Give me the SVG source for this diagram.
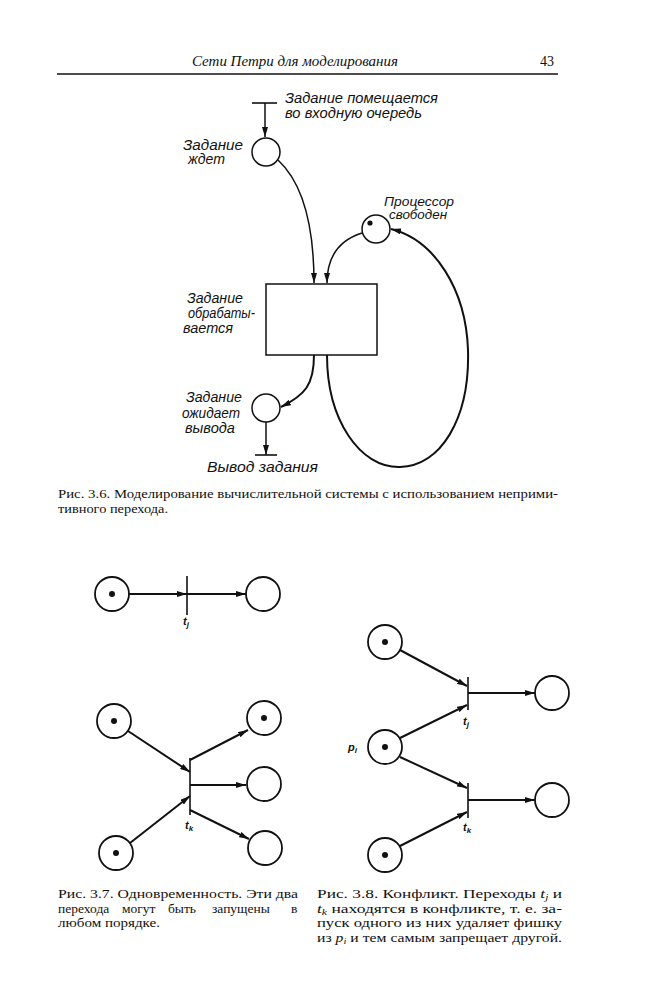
<svg xmlns="http://www.w3.org/2000/svg" width="653" height="1000" viewBox="0 0 653 1000">
<style>
.bg{fill:#fff}
.pl{fill:#fff;stroke:#111;stroke-width:1.5}
.pl2{fill:#fff;stroke:#111;stroke-width:1.8}
.tok{fill:#111}
.ln{fill:none;stroke:#111;stroke-width:1.5}
.ln2{fill:none;stroke:#111;stroke-width:2}
.bar{stroke:#111;stroke-width:1.6}
.hand{font-family:"Liberation Sans",sans-serif;font-style:italic;font-size:14px;fill:#111}
.small{font-size:12px}
.head{font-family:"Liberation Serif",serif;font-style:italic;font-size:15px;fill:#111}
.cap{font-family:"Liberation Serif",serif;font-size:13.5px;fill:#111}
.lab{font-family:"Liberation Sans",sans-serif;font-style:italic;font-weight:bold;font-size:11px;fill:#111}
.sub{font-size:8px}
</style>
<defs>
<marker id="ah" markerUnits="userSpaceOnUse" markerWidth="10" markerHeight="6" refX="10" refY="3" orient="auto">
<path d="M0,0 L10,3 L0,6 z" fill="#111"/>
</marker>
</defs>
<rect class="bg" width="653" height="1000"/>

<!-- header -->
<g id="header">
<text class="head" x="192" y="66" textLength="206" lengthAdjust="spacingAndGlyphs">Сети Петри для моделирования</text>
<text class="cap" x="540" y="66" style="font-size:14px">43</text>
<line x1="57" y1="74" x2="558" y2="74" stroke="#111" stroke-width="1.6"/>
</g>

<!-- Fig 3.6 -->
<g id="fig36-connectors">
<line class="bar" x1="252" y1="103" x2="277" y2="103"/>
<path class="ln" d="M265,103 L265,137" marker-end="url(#ah)"/>
<path class="ln" d="M278,160 C305,185 314,230 314,283" marker-end="url(#ah)"/>
<path class="ln" d="M362,233 C340,240 327,255 327,283" marker-end="url(#ah)"/>
<path class="ln2" d="M327,355 C327,420 360,468 400,467 C440,466 470,420 468,350 C466,290 435,240 391,229" marker-end="url(#ah)"/>
<path class="ln2" d="M314,355 C314,385 305,395 281,407" marker-end="url(#ah)"/>
<path class="ln" d="M266,422 L266,455" marker-end="url(#ah)"/>
<line class="bar" x1="255" y1="455" x2="277" y2="455"/>
</g>
<g id="t-enter">
<text class="hand" x="285" y="103" textLength="153" lengthAdjust="spacingAndGlyphs">Задание помещается</text>
<text class="hand" x="285" y="118" textLength="137" lengthAdjust="spacingAndGlyphs">во входную очередь</text>
</g>
<g id="p-wait">
<circle class="pl" cx="266" cy="152" r="14"/>
<text class="hand" x="183" y="150" textLength="60" lengthAdjust="spacingAndGlyphs">Задание</text>
<text class="hand" x="188" y="164" textLength="37" lengthAdjust="spacingAndGlyphs">ждет</text>
</g>
<g id="p-cpu">
<circle class="pl" cx="376" cy="229" r="14"/>
<circle class="tok" cx="370" cy="223" r="2.6"/>
<text class="hand small" x="384" y="206" textLength="70" lengthAdjust="spacingAndGlyphs">Процессор</text>
<text class="hand small" x="389" y="219" textLength="58" lengthAdjust="spacingAndGlyphs">свободен</text>
</g>
<g id="t-process">
<rect class="pl" x="266" y="284" width="111" height="71"/>
<text class="hand" x="187" y="303" textLength="56" lengthAdjust="spacingAndGlyphs">Задание</text>
<text class="hand" x="188" y="318" textLength="67" lengthAdjust="spacingAndGlyphs">обрабаты-</text>
<text class="hand" x="183" y="333" textLength="50" lengthAdjust="spacingAndGlyphs">вается</text>
</g>
<g id="p-out">
<circle class="pl" cx="266" cy="408" r="14"/>
<text class="hand" x="186" y="402" textLength="56" lengthAdjust="spacingAndGlyphs">Задание</text>
<text class="hand" x="182" y="418" textLength="58" lengthAdjust="spacingAndGlyphs">ожидает</text>
<text class="hand" x="185" y="433" textLength="50" lengthAdjust="spacingAndGlyphs">вывода</text>
</g>
<g id="t-output">
<text class="hand" x="207" y="472" textLength="111" lengthAdjust="spacingAndGlyphs">Вывод задания</text>
</g>
<g id="cap36">
<text class="cap" x="58" y="498" textLength="500" lengthAdjust="spacingAndGlyphs">Рис. 3.6. Моделирование вычислительной системы с использованием неприми-</text>
<text class="cap" x="58" y="513" textLength="110" lengthAdjust="spacingAndGlyphs">тивного перехода.</text>
</g>

<!-- Fig 3.7 -->
<g id="fig37-connectors">
<path class="ln2" d="M129,594 L187,594" marker-end="url(#ah)"/>
<path class="ln2" d="M187,594 L246,594" marker-end="url(#ah)"/>
<line class="bar" x1="187" y1="576" x2="187" y2="615"/>
<path class="ln2" d="M128,731 L190,772" marker-end="url(#ah)"/>
<path class="ln2" d="M130,843 L190,796" marker-end="url(#ah)"/>
<path class="ln2" d="M190,760 L248,730" marker-end="url(#ah)"/>
<path class="ln2" d="M190,785 L246,785" marker-end="url(#ah)"/>
<path class="ln2" d="M190,810 L249,839" marker-end="url(#ah)"/>
<line class="bar" x1="190" y1="758" x2="190" y2="815"/>
</g>
<g id="p37a"><circle class="pl2" cx="112" cy="594" r="17"/><circle class="tok" cx="112" cy="594" r="3"/></g>
<g id="p37b"><circle class="pl2" cx="263" cy="594" r="17"/></g>
<g id="tj37"><text class="lab" x="183" y="625">t<tspan class="sub" dy="2">j</tspan></text></g>
<g id="p37c"><circle class="pl2" cx="114" cy="721" r="17"/><circle class="tok" cx="114" cy="721" r="3"/></g>
<g id="p37d"><circle class="pl2" cx="116" cy="853" r="17"/><circle class="tok" cx="116" cy="853" r="3"/></g>
<g id="p37e"><circle class="pl2" cx="264" cy="718" r="17"/><circle class="tok" cx="264" cy="718" r="3"/></g>
<g id="p37f"><circle class="pl2" cx="264" cy="784" r="17"/></g>
<g id="p37g"><circle class="pl2" cx="265" cy="848" r="17"/></g>
<g id="tk37"><text class="lab" x="185" y="829">t<tspan class="sub" dy="2">k</tspan></text></g>

<!-- Fig 3.8 -->
<g id="fig38-connectors">
<path class="ln2" d="M400,650 L467,686" marker-end="url(#ah)"/>
<path class="ln2" d="M400,738 L467,705" marker-end="url(#ah)"/>
<path class="ln2" d="M400,757 L467,788" marker-end="url(#ah)"/>
<path class="ln2" d="M400,846 L467,812" marker-end="url(#ah)"/>
<path class="ln2" d="M468,693 L535,693" marker-end="url(#ah)"/>
<path class="ln2" d="M468,800 L535,800" marker-end="url(#ah)"/>
<line class="bar" x1="468" y1="677" x2="468" y2="710"/>
<line class="bar" x1="468" y1="783" x2="468" y2="818"/>
</g>
<g id="p38a"><circle class="pl2" cx="385" cy="642" r="17"/><circle class="tok" cx="385" cy="642" r="3"/></g>
<g id="p38i"><circle class="pl2" cx="385" cy="747" r="17"/><circle class="tok" cx="385" cy="747" r="3"/>
<text class="lab" x="348" y="751">p<tspan class="sub" dy="2">i</tspan></text></g>
<g id="p38c"><circle class="pl2" cx="385" cy="855" r="17"/><circle class="tok" cx="385" cy="855" r="3"/></g>
<g id="p38d"><circle class="pl2" cx="552" cy="693" r="17"/></g>
<g id="p38e"><circle class="pl2" cx="552" cy="800" r="17"/></g>
<g id="tj38"><text class="lab" x="463" y="725">t<tspan class="sub" dy="2">j</tspan></text></g>
<g id="tk38"><text class="lab" x="463" y="831">t<tspan class="sub" dy="2">k</tspan></text></g>

<!-- captions -->
<g id="cap37">
<text class="cap" x="58" y="898" textLength="240" lengthAdjust="spacingAndGlyphs">Рис. 3.7. Одновременность. Эти два</text>
<text class="cap" y="913"><tspan x="58">перехода</tspan><tspan x="122">могут</tspan><tspan x="168">быть</tspan><tspan x="212">запущены</tspan><tspan x="291">в</tspan></text>
<text class="cap" x="58" y="927" textLength="102" lengthAdjust="spacingAndGlyphs">любом порядке.</text>
</g>
<g id="cap38">
<text class="cap" x="317" y="898" textLength="245" lengthAdjust="spacingAndGlyphs">Рис. 3.8. Конфликт. Переходы <tspan font-style="italic">t<tspan font-size="9" dy="2">j</tspan></tspan><tspan dy="-2"> и</tspan></text>
<text class="cap" x="317" y="913" textLength="245" lengthAdjust="spacingAndGlyphs"><tspan font-style="italic">t<tspan font-size="9" dy="2">k</tspan></tspan><tspan dy="-2"> находятся в конфликте, т. е. за-</tspan></text>
<text class="cap" x="317" y="927" textLength="245" lengthAdjust="spacingAndGlyphs">пуск одного из них удаляет фишку</text>
<text class="cap" x="317" y="942" textLength="245" lengthAdjust="spacingAndGlyphs">из <tspan font-style="italic">p<tspan font-size="9" dy="2">i</tspan></tspan><tspan dy="-2"> и тем самым запрещает другой.</tspan></text>
</g>
</svg>
